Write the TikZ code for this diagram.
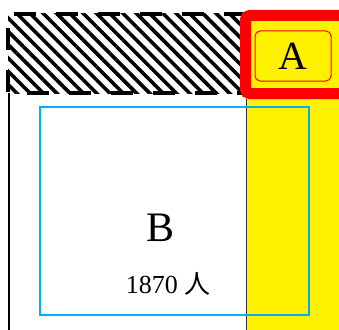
\documentclass[tikz,border=0pt]{standalone}
\usepackage{fontspec}
\setmainfont{Liberation Serif}
\newfontfamily\cjk{Noto Sans CJK JP}
\usetikzlibrary{patterns.meta}
\definecolor{boxcyan}{RGB}{0,176,240}
\tikzset{
  hatchbox/.style={pattern={Lines[angle=-45,distance=9.4pt,line width=3.6pt]}},
  tagbox/.style={draw=red, fill=yellow, rounded corners=5pt, line width=1pt,
    minimum width=76pt, minimum height=50pt, font=\fontsize{40}{48}\selectfont}
}
\begin{document}
\begin{tikzpicture}[x=1pt, y=-1pt]
  \useasboundingbox (0,0) rectangle (339,329);
  \clip (0,0) rectangle (339,329);
  % 黄色の帯
  \fill[yellow] (246,94) rectangle (345,335);
  % 斜線の領域
  \fill[hatchbox] (8,14) rectangle (246,93);
  \draw[line width=4pt, dash pattern=on 22pt off 20pt] (246,14) -- (8,14) -- (8,93) -- (246,93);
  % 赤い枠
  \draw[red, fill=yellow, line width=11pt, rounded corners=4pt] (245.5,15.5) rectangle (360,93.5);
  \node[tagbox] (A) at (293,56) {A};
  % 縦線
  \draw[line width=2pt] (9,93) -- (9,335);
  \draw[line width=0.8pt, black!80] (246,99) -- (246,335);
  % 青い枠
  \draw[boxcyan, line width=1.6pt] (40,107) rectangle (309,315);
  \node[font=\fontsize{42}{50}\selectfont] (B) at (161,228) {B};
  \node[font=\fontsize{26}{30}\selectfont] (Bn) at (168,284) {1870 {\cjk 人}};
\end{tikzpicture}
\end{document}
